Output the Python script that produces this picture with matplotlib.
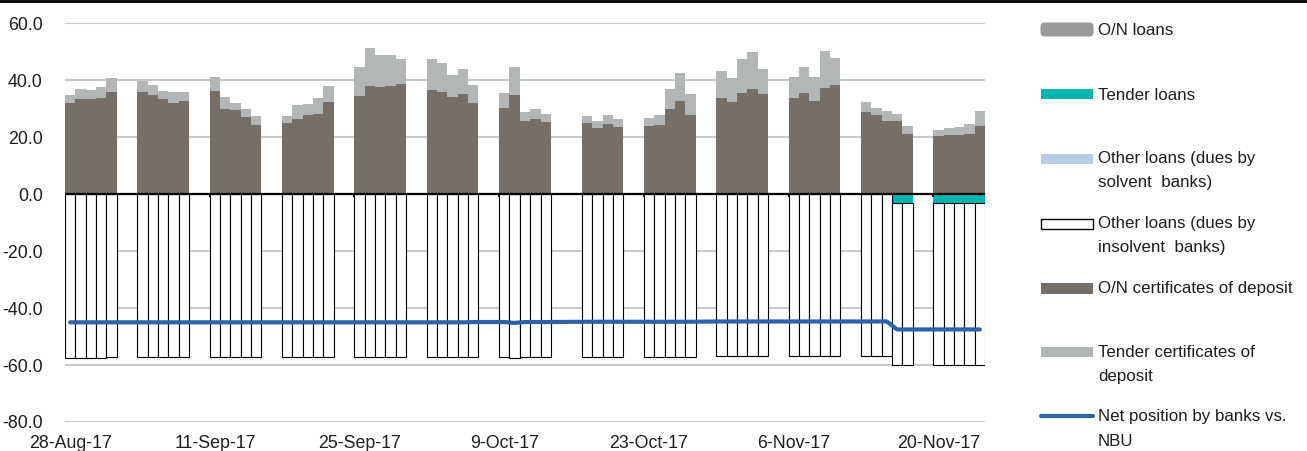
import numpy as np
import pandas as pd
import matplotlib
matplotlib.use('Agg')
import matplotlib.pyplot as plt
import matplotlib.dates as mdates
from matplotlib.patches import Rectangle, FancyBboxPatch

plt.rcParams['font.family'] = ['Liberation Sans', 'DejaVu Sans']

# business days 28-Aug-17 .. 24-Nov-17 (16-Oct-17 was a day off)
days = pd.bdate_range('2017-08-28', '2017-11-24')
days = days[days != pd.Timestamp('2017-10-16')]

# UAH bn, one value per business day
on_cd = [
    32.1, 33.3, 33.3, 33.9, 35.9,
    35.9, 34.8, 33.4, 32.1, 32.7,
    36.2, 29.9, 29.5, 27.1, 24.4,
    25.0, 26.3, 27.8, 28.1, 32.4,
    34.5, 38.0, 37.5, 37.9, 38.8,
    36.6, 35.8, 34.0, 35.3, 31.9,
    30.3, 34.8, 25.8, 26.3, 25.3,
    25.0, 23.2, 24.6, 23.7,
    23.9, 24.4, 29.9, 32.8, 27.7,
    33.8, 32.4, 35.5, 36.8, 35.2,
    33.9, 35.5, 32.6, 37.3, 38.4,
    28.8, 27.8, 25.7, 25.7, 21.1,
    20.5, 20.7, 20.8, 21.3, 23.8,
]
tender_cd = [
    2.7, 3.8, 3.3, 3.8, 4.8,
    3.9, 3.4, 2.7, 3.8, 3.2,
    5.1, 4.2, 2.4, 2.7, 3.2,
    2.6, 5.1, 4.0, 5.8, 5.7,
    10.0, 13.4, 11.2, 10.9, 8.7,
    10.8, 10.2, 7.9, 8.7, 6.6,
    5.1, 9.8, 3.0, 3.5, 2.7,
    2.4, 2.4, 3.3, 2.7,
    2.7, 3.5, 7.0, 9.7, 7.5,
    9.6, 8.4, 12.0, 13.1, 8.7,
    7.4, 9.0, 8.5, 12.9, 9.4,
    3.7, 2.6, 3.4, 2.6, 2.8,
    2.1, 2.4, 2.9, 3.2, 5.3,
]
tender_loans = [0.0] * 57 + [3.2, 3.2, 3.2, 3.2, 3.2, 3.2, 3.2]
insolvent_loans = [
    57.5, 57.7, 57.7, 57.7, 57.3,
    57.3, 57.3, 57.3, 57.3, 57.3,
    57.3, 57.3, 57.3, 57.3, 57.3,
    57.3, 57.3, 57.3, 57.3, 57.3,
    57.3, 57.3, 57.3, 57.3, 57.3,
    57.3, 57.3, 57.3, 57.3, 57.3,
    57.3, 57.7, 57.3, 57.3, 57.3,
    57.3, 57.3, 57.3, 57.3,
    57.3, 57.3, 57.3, 57.3, 57.3,
    57.0, 57.0, 57.0, 57.0, 57.0,
    57.0, 57.0, 57.0, 57.0, 57.0,
    57.0, 57.0, 57.0, 56.7, 56.7,
    56.7, 56.7, 56.7, 56.7, 56.7,
]
net_position = [
    -45.0, -45.0, -45.0, -45.0, -45.0,
    -45.0, -45.0, -45.0, -45.0, -45.0,
    -45.0, -45.0, -45.0, -45.0, -45.0,
    -45.0, -45.0, -45.0, -45.0, -45.0,
    -45.0, -45.0, -45.0, -45.0, -45.0,
    -45.0, -45.0, -45.0, -45.0, -44.9,
    -44.9, -45.2, -44.9, -44.9, -44.9,
    -44.8, -44.8, -44.8, -44.8,
    -44.8, -44.8, -44.8, -44.8, -44.8,
    -44.7, -44.7, -44.7, -44.7, -44.7,
    -44.7, -44.7, -44.7, -44.7, -44.7,
    -44.7, -44.7, -44.7, -47.5, -47.5,
    -47.5, -47.5, -47.5, -47.5, -47.5,
]
tick_dates = pd.date_range('2017-08-28', periods=7, freq='14D')
y_ticks = [-80, -60, -40, -20, 0, 20, 40, 60]

c_oncd = '#756E69'
c_tcd = '#B3B6B7'
c_teal = '#00B5AD'
c_solv = '#B8CCE4'
c_onl = '#9A9A9A'
c_net = '#2E62A8'
c_grid = '#C8CACA'
c_txt = '#1E1E1E'

xd = mdates.date2num(days)
on_cd = np.array(on_cd)
tender_cd = np.array(tender_cd)
tender_loans = np.array(tender_loans)
insolvent_loans = np.array(insolvent_loans)

W, H = 1307, 451
fig = plt.figure(figsize=(W / 100, H / 100), dpi=100)
ax = fig.add_axes([65 / W, 29 / H, 920 / W, 398.7 / H])

ax.bar(xd, on_cd, width=1, align='edge', color=c_oncd, lw=0, zorder=2)
ax.bar(xd, tender_cd, bottom=on_cd, width=1, align='edge', color=c_tcd, lw=0, zorder=2)
ax.bar(xd, -tender_loans, width=1, align='edge', color=c_teal, lw=0, zorder=2)
ax.bar(xd, -insolvent_loans, bottom=-tender_loans, width=1, align='edge',
       color='white', edgecolor='black', lw=0.8, zorder=2)
ax.plot(xd + 0.5, net_position, color=c_net, lw=3, solid_capstyle='round',
        solid_joinstyle='round', zorder=5)

ax.axhline(0, color='black', lw=1.6, zorder=4)
tick_num = mdates.date2num(tick_dates)
ax.vlines(tick_num, -1.1, 0, color='black', lw=1.4, zorder=4)

ax.set_xlim(xd[0], xd[-1] + 1)
ax.set_ylim(-80, 60)
ax.set_yticks(y_ticks)
ax.set_yticklabels([f'{v:.1f}' for v in y_ticks])
ax.set_xticks(tick_num + 0.5)
ax.set_xticklabels([f"{d.day}-{d.strftime('%b-%y')}" for d in tick_dates])
ax.tick_params(axis='y', length=0, pad=16, labelsize=12.8, colors=c_txt)
ax.tick_params(axis='x', length=0, pad=9, labelsize=12.8, colors=c_txt)
ax.yaxis.grid(True, color=c_grid, lw=1.5)
ax.set_axisbelow(True)
for s in ax.spines.values():
    s.set_visible(False)

# legend drawn by hand in pixel coordinates
lax = fig.add_axes([0, 0, 1, 1], zorder=-1)
lax.set_xlim(0, W)
lax.set_ylim(H, 0)
lax.axis('off')
lax.plot([0, W], [1.3, 1.3], color='black', lw=2)

hx, hw = 1041, 52
lax.add_patch(FancyBboxPatch((hx + 1, 24), hw - 2, 11, boxstyle='round,pad=1.5,rounding_size=4',
                             color=c_onl, lw=0))
lax.add_patch(Rectangle((hx, 88.5), hw, 10.5, color=c_teal, lw=0))
lax.add_patch(Rectangle((hx, 154), hw, 10, color=c_solv, lw=0))
lax.add_patch(Rectangle((hx, 218.5), hw, 10, facecolor='white', edgecolor='black', lw=1))
lax.add_patch(Rectangle((hx, 283), hw, 10.5, color=c_oncd, lw=0))
lax.add_patch(Rectangle((hx, 347), hw, 10, color=c_tcd, lw=0))
lax.plot([hx, hx + hw], [416, 416], color=c_net, lw=3, solid_capstyle='round')

labels = [
    (['O/N loans'], 35),
    (['Tender loans'], 99.5),
    (['Other loans (dues by', 'solvent  banks)'], 163.5),
    (['Other loans (dues by', 'insolvent  banks)'], 228),
    (['O/N certificates of deposit'], 292.5),
    (['Tender certificates of', 'deposit'], 357),
    (['Net position by banks vs.', 'NBU'], 421.5),
]
for lines, base in labels:
    for i, t in enumerate(lines):
        lax.text(1098, base + 24 * i, t, fontsize=12.2, color=c_txt, va='baseline', ha='left')

fig.savefig('out.png', dpi=100)
